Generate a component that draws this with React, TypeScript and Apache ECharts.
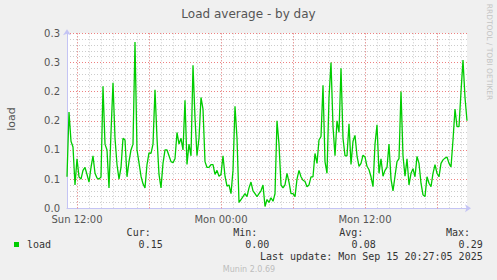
import React, { useEffect, useRef } from "react";
import * as echarts from "echarts";

// Load average, 10-minute samples from Sun 11:10 to Mon 20:30
const loadValues: number[] = [
  0.054, 0.165, 0.115, 0.105, 0.04, 0.085, 0.054, 0.05, 0.065, 0.07,
  0.058, 0.045, 0.07, 0.09, 0.06, 0.052, 0.05, 0.054, 0.209, 0.11,
  0.10, 0.035, 0.13, 0.215, 0.12, 0.075, 0.05, 0.07, 0.12, 0.117,
  0.054, 0.08, 0.10, 0.11, 0.285, 0.10, 0.078, 0.055, 0.042, 0.035,
  0.075, 0.095, 0.094, 0.11, 0.203, 0.12, 0.058, 0.035, 0.077, 0.10,
  0.10, 0.09, 0.08, 0.078, 0.085, 0.13, 0.11, 0.12, 0.10, 0.185,
  0.075, 0.11, 0.09, 0.245, 0.155, 0.09, 0.12, 0.19, 0.17, 0.08,
  0.07, 0.07, 0.075, 0.075, 0.058, 0.065, 0.055, 0.058, 0.09, 0.055,
  0.038, 0.04, 0.025, 0.065, 0.175, 0.12, 0.01, 0.015, 0.02, 0.025,
  0.02, 0.035, 0.045, 0.03, 0.025, 0.02, 0.025, 0.03, 0.04, 0.003,
  0.015, 0.01, 0.018, 0.012, 0.025, 0.15, 0.11, 0.04, 0.035, 0.04,
  0.06, 0.045, 0.025, 0.025, 0.02, 0.05, 0.065, 0.054, 0.048, 0.046,
  0.037, 0.04, 0.054, 0.054, 0.094, 0.077, 0.117, 0.123, 0.211, 0.08,
  0.06, 0.19, 0.25, 0.14, 0.09, 0.15, 0.13, 0.24, 0.12, 0.09,
  0.09, 0.145, 0.075, 0.115, 0.125, 0.09, 0.072, 0.077, 0.091, 0.088,
  0.072, 0.066, 0.054, 0.037, 0.11, 0.143, 0.06, 0.085, 0.055, 0.065,
  0.07, 0.11, 0.05, 0.03, 0.055, 0.08, 0.085, 0.2, 0.09, 0.055,
  0.085, 0.04, 0.06, 0.068, 0.054, 0.089, 0.077, 0.043, 0.023, 0.02,
  0.054, 0.043, 0.037, 0.06, 0.075, 0.06, 0.054, 0.077, 0.083, 0.086,
  0.088, 0.077, 0.071, 0.117, 0.17, 0.14, 0.14, 0.2, 0.254, 0.19,
  0.15,
];

const startMinute = 11 * 60 + 10; // Sun 11:10
const stepMinutes = 10;
const dayNames = ["Sun", "Mon"];

const minuteOf = (i: number) => startMinute + i * stepMinutes;
const categories: string[] = loadValues.map((_, i) => {
  const m = minuteOf(i);
  const d = Math.floor(m / 1440);
  const h = Math.floor((m % 1440) / 60);
  const mm = m % 60;
  return `${dayNames[d]} ${String(h).padStart(2, "0")}:${String(mm).padStart(2, "0")}`;
});
const majorTimes = categories.filter((_, i) => minuteOf(i) % 360 === 0);

const yTickLabels = ["0.0", "0.1", "0.1", "0.2", "0.2", "0.3", "0.3"];
const statLabels = ["Cur:", "Min:", "Avg:", "Max:"];
const statValues = ["0.15", "0.00", "0.08", "0.29"];
const titleText = "Load average - by day";
const seriesName = "load";
const lastUpdate = "Last update: Mon Sep 15 20:27:05 2025";

const AXIS = "#c4c4f4";
const MAJOR = "#ee8080";
const MINOR = "#cccccc";
const GREEN = "#00cc00";

export default function App() {
  const ref = useRef<HTMLDivElement>(null);
  useEffect(() => {
    if (!ref.current) return;
    const chart = echarts.init(ref.current, undefined, { renderer: "svg" });
    const mono = '10px "DejaVu Sans Mono"';
    const statLabelX = [150.7, 257.3, 363.3, 470];
    const statValueX = [162.7, 269.3, 375.7, 482.7];
    const graphic: any[] = [
      {
        type: "text", x: 248.5, y: 14,
        style: { text: titleText, font: '12px "DejaVu Sans"', fill: "#555", textAlign: "center", textVerticalAlign: "middle" },
      },
      {
        type: "text", x: 11, y: 119, rotation: Math.PI / 2,
        style: { text: seriesName, font: '11px "DejaVu Sans"', fill: "#555", textAlign: "center", textVerticalAlign: "middle" },
      },
      {
        type: "text", x: 489, y: 52, rotation: -Math.PI / 2,
        style: { text: "RRDTOOL / TOBI OETIKER", font: '7.5px "DejaVu Sans"', fill: "#c4c4c4", textAlign: "center", textVerticalAlign: "middle" },
      },
      { type: "rect", shape: { x: 14, y: 242, width: 5, height: 5 }, style: { fill: GREEN } },
      {
        type: "text", x: 27, y: 244.5,
        style: { text: seriesName, font: mono, fill: "#333", textAlign: "left", textVerticalAlign: "middle" },
      },
      {
        type: "text", x: 482.7, y: 256.7,
        style: { text: lastUpdate, font: mono, fill: "#333", textAlign: "right", textVerticalAlign: "middle" },
      },
      {
        type: "text", x: 249, y: 269.3,
        style: { text: "Munin 2.0.69", font: '8px "DejaVu Sans"', fill: "#bdbdbd", textAlign: "center", textVerticalAlign: "middle" },
      },
    ];
    statLabels.forEach((t, k) => {
      graphic.push({
        type: "text", x: statLabelX[k], y: 232.7,
        style: { text: t, font: mono, fill: "#333", textAlign: "right", textVerticalAlign: "middle" },
      });
      graphic.push({
        type: "text", x: statValueX[k], y: 244.5,
        style: { text: statValues[k], font: mono, fill: "#333", textAlign: "right", textVerticalAlign: "middle" },
      });
    });

    const option: any = {
      animation: false,
      backgroundColor: "#f0f0f0",
      grid: {
        left: 67, top: 33.3, width: 400, height: 175,
        show: true, backgroundColor: "#ffffff", borderWidth: 0,
        outerBoundsMode: "none",
      },
      xAxis: [
        {
          type: "category",
          data: categories,
          boundaryGap: false,
          axisLine: {
            show: true,
            lineStyle: { color: AXIS, width: 1 },
            symbol: ["none", "arrow"],
            symbolSize: [6, 6],
            symbolOffset: [0, 4],
          },
          axisTick: { show: false },
          axisLabel: {
            interval: (i: number) => minuteOf(i) % 720 === 0,
            color: "#555",
            fontFamily: "DejaVu Sans",
            fontSize: 10,
            margin: 6,
          },
          splitLine: {
            show: true,
            interval: (i: number) => minuteOf(i) % 60 === 0,
            lineStyle: { color: MINOR, type: [1, 2], width: 1 },
          },
        },
      ],
      yAxis: {
        type: "value",
        min: 0,
        max: 0.3,
        interval: 0.05,
        axisLine: {
          show: true,
          lineStyle: { color: AXIS, width: 1 },
          symbol: ["none", "arrow"],
          symbolSize: [6, 6],
          symbolOffset: [0, 4],
        },
        axisTick: { show: false },
        axisLabel: {
          formatter: (v: number) => yTickLabels[Math.round(v / 0.05)],
          color: "#555",
          fontFamily: "DejaVu Sans",
          fontSize: 10,
          margin: 7,
        },
        splitLine: { show: true, lineStyle: { color: MAJOR, type: [1, 2], width: 1 } },
        minorTick: { show: false, splitNumber: 5 },
        minorSplitLine: { show: true, lineStyle: { color: MINOR, type: [1, 2], width: 1 } },
      },
      series: [
        {
          name: "major-grid",
          type: "line",
          data: [],
          z: 1,
          silent: true,
          markLine: {
            silent: true,
            symbol: ["none", "none"],
            label: { show: false },
            lineStyle: { color: MAJOR, type: [1, 2], width: 1 },
            data: majorTimes.map((t) => ({ xAxis: t })),
          },
        },
        {
          name: seriesName,
          type: "line",
          data: loadValues,
          showSymbol: false,
          symbol: "none",
          lineStyle: { color: GREEN, width: 1.3 },
          z: 5,
        },
      ],
      graphic,
    };
    chart.setOption(option);
    return () => chart.dispose();
  }, []);
  return (
    <div
      ref={ref}
      style={{ position: "fixed", left: 0, top: 0, width: 497, height: 280 }}
    />
  );
}
